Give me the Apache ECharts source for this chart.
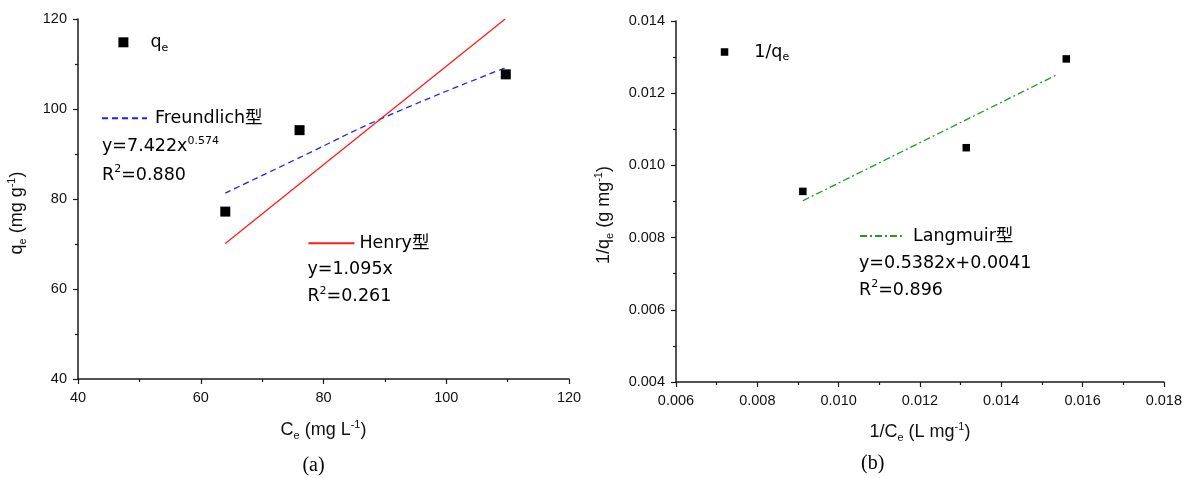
<!DOCTYPE html>
<html>
<head>
<meta charset="utf-8">
<script src="https://cdn.jsdelivr.net/npm/echarts@6/dist/echarts.min.js"></script>
<style>html,body{margin:0;padding:0;background:#fff;}#c{width:1185px;height:478px;}</style>
</head>
<body>
<div id="c"></div>
<script>
// ---- data ----
const ceObs = [64.0, 76.1, 109.7];            // Ce (mg/L)
const qeObs = [77.2, 95.3, 107.7];            // qe (mg/g)
const freundCe = [64.0, 76.1, 90.0, 109.7];   // Freundlich fit curve
const freundQe = [81.3, 89.2, 98.2, 109.2];
const henryCe = [64.0, 109.6];                // Henry fit line
const henryQe = [70.1, 120.0];
const invCe = [0.00912, 0.01314, 0.0156];     // 1/Ce
const invQe = [0.00928, 0.01049, 0.01295];    // 1/qe
const langX = [0.00912, 0.01535];             // Langmuir fit line
const langY = [0.00902, 0.01250];
const axA = { xMin: 40, xMax: 120, xStep: 20, yMin: 40, yMax: 120, yStep: 20 };
const axB = { xMin: 0.006, xMax: 0.018, xStep: 0.002, yMin: 0.004, yMax: 0.014, yStep: 0.002 };

const zip = (a, b) => a.map((v, i) => [v, b[i]]);
const SANS = 'Liberation Sans, Arial, sans-serif';
const LEG = 'DejaVu Sans, Noto Sans CJK SC, sans-serif';
const LEGSIZE = 17.5;
const AXC = '#1a1a1a';

function axisCommon(min, max, step, fmt) {
  return {
    type: 'value', min: min, max: max, interval: step,
    splitLine: { show: false },
    axisLine: { show: true, onZero: false, lineStyle: { color: AXC, width: 1.5 } },
    axisTick: { show: true, inside: false, length: 5, lineStyle: { color: AXC, width: 1.2 } },
    minorTick: { show: true, splitNumber: 2, length: 3, lineStyle: { color: AXC, width: 1.2 } },
    axisLabel: { color: '#111', fontFamily: SANS, fontSize: 14.5, margin: 11, formatter: fmt },
  };
}
const nameRich = {
  s: { fontSize: 11, verticalAlign: 'bottom', fontFamily: SANS, color: '#111' },
  p: { fontSize: 11, verticalAlign: 'top', fontFamily: SANS, color: '#111' }
};
const nameStyle = (pad) => ({ fontFamily: SANS, fontSize: 18, color: '#111', lineHeight: 22, rich: nameRich, padding: pad });

const legRich = { s: { fontSize: 11, verticalAlign: 'bottom', fontFamily: LEG, color: '#000' } };
function legend(name, left, top, iw, ih, padL, hideSymbol) {
  const l = {
    data: [name], left: left, top: top, padding: 0, itemGap: 0,
    itemWidth: iw, itemHeight: ih, orient: 'horizontal',
    selectedMode: false,
    formatter: (n) => n === 'qe' ? 'q{s|e}' : (n === '1/qe' ? '1/q{s|e}' : n),
    textStyle: { fontFamily: LEG, fontSize: LEGSIZE, color: '#000', lineHeight: 22, padding: [0, 0, 0, padL], rich: legRich }
  };
  l.itemStyle = hideSymbol ? { opacity: 0 } : { opacity: 1, color: '#000' };
  return l;
}
const eqRich = { p: { fontSize: 11, verticalAlign: 'top', fontFamily: LEG, fill: '#000' } };
function eq(text, x, y) {
  return { type: 'text', x: x, y: y, silent: true,
    style: { text: text, fill: '#000', font: LEGSIZE + 'px ' + LEG, verticalAlign: 'middle', align: 'left', lineHeight: 22, rich: eqRich } };
}

const option = {
  animation: false,
  backgroundColor: '#fff',
  grid: [
    { left: 78, top: 19, width: 491, height: 360 },
    { left: 676, top: 21, width: 490, height: 361 }
  ],
  xAxis: [
    Object.assign(axisCommon(axA.xMin, axA.xMax, axA.xStep), {
      gridIndex: 0, position: 'bottom',
      name: 'C{s|e} (mg L{p|-1})', nameLocation: 'middle', nameGap: 40, nameTextStyle: nameStyle(0)
    }),
    Object.assign(axisCommon(axB.xMin, axB.xMax, axB.xStep, v => v.toFixed(3)), {
      gridIndex: 1, position: 'bottom',
      name: '1/C{s|e} (L mg{p|-1})', nameLocation: 'middle', nameGap: 39, nameTextStyle: nameStyle(0)
    })
  ],
  yAxis: [
    Object.assign(axisCommon(axA.yMin, axA.yMax, axA.yStep), {
      gridIndex: 0, position: 'left',
      name: 'q{s|e} (mg g{p|-1})', nameLocation: 'middle', nameGap: 50, nameTextStyle: nameStyle([0, 28, 0, 0])
    }),
    Object.assign(axisCommon(axB.yMin, axB.yMax, axB.yStep, v => v.toFixed(3)), {
      gridIndex: 1, position: 'left',
      name: '1/q{s|e} (g mg{p|-1})', nameLocation: 'middle', nameGap: 61, nameTextStyle: nameStyle([0, 27, 0, 0])
    })
  ],
  legend: [
    legend('qe', 118.4, 31.3, 10, 10, 17, false),
    legend('Freundlich型', 101, 107.3, 45, 14, 3, true),
    legend('Henry型', 307.4, 232.3, 46, 14, 0, true),
    legend('1/qe', 720.8, 41, 7.5, 7.5, 21, false),
    legend('Langmuir型', 859, 225, 45, 14, 3, true)
  ],
  series: [
    { name: 'qe', type: 'scatter', xAxisIndex: 0, yAxisIndex: 0, symbol: 'rect', symbolSize: 10,
      itemStyle: { color: '#000', opacity: 1 }, data: zip(ceObs, qeObs), z: 5 },
    { name: 'Freundlich型', type: 'line', xAxisIndex: 0, yAxisIndex: 0, smooth: true, symbol: 'none', showSymbol: false,
      lineStyle: { color: '#1f1fff', width: 1.3, type: [6, 4] }, itemStyle: { color: '#1f1fff' }, data: zip(freundCe, freundQe) },
    { name: 'Henry型', type: 'line', xAxisIndex: 0, yAxisIndex: 0, symbol: 'none', showSymbol: false,
      lineStyle: { color: '#ff1a1a', width: 1.3 }, itemStyle: { color: '#ff1a1a' }, data: zip(henryCe, henryQe) },
    { name: '1/qe', type: 'scatter', xAxisIndex: 1, yAxisIndex: 1, symbol: 'rect', symbolSize: 7.5,
      itemStyle: { color: '#000', opacity: 1 }, data: zip(invCe, invQe), z: 5 },
    { name: 'Langmuir型', type: 'line', xAxisIndex: 1, yAxisIndex: 1, symbol: 'none', showSymbol: false,
      lineStyle: { color: '#229922', width: 1.3, type: [7, 3, 2, 3] }, itemStyle: { color: '#229922' }, data: zip(langX, langY) }
  ],
  graphic: [
    eq('y=7.422x{p|0.574}', 102, 146.7),
    eq('R{p|2}=0.880', 102, 175),
    eq('y=1.095x', 307.4, 269.3),
    eq('R{p|2}=0.261', 307.4, 296.7),
    eq('y=0.5382x+0.0041', 859, 263),
    eq('R{p|2}=0.896', 859, 290),
    { type: 'text', x: 313.5, y: 465.5, silent: true,
      style: { text: '(a)', fill: '#000', font: '20px Liberation Serif, Times New Roman, serif', align: 'center', verticalAlign: 'middle' } },
    { type: 'text', x: 872.7, y: 464, silent: true,
      style: { text: '(b)', fill: '#000', font: '20px Liberation Serif, Times New Roman, serif', align: 'center', verticalAlign: 'middle' } }
  ]
};
const chart = echarts.init(document.getElementById('c'), null, { renderer: 'canvas' });
chart.setOption(option);
</script>
</body>
</html>
